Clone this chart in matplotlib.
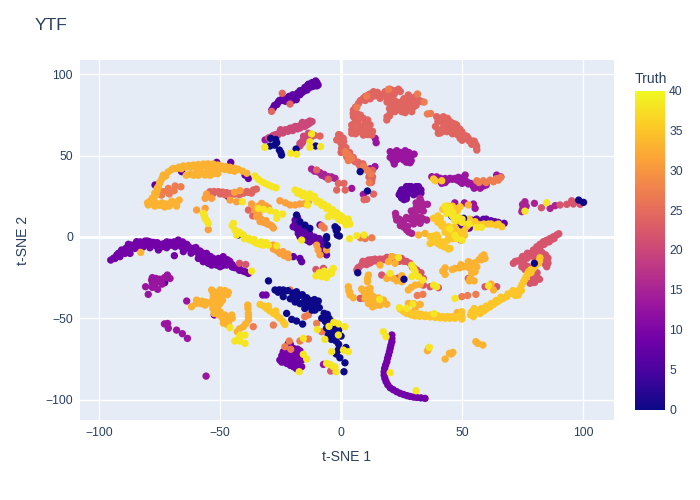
import matplotlib
matplotlib.use("Agg")
import matplotlib.pyplot as plt
from matplotlib.cm import ScalarMappable
from matplotlib.colors import LinearSegmentedColormap, Normalize

plt.rcParams['font.family'] = ['Liberation Sans', 'DejaVu Sans']

# (t-SNE 1, t-SNE 2), one list per truth value
t7 = [(-28.7,78),(-27.5,81),(-26,83),(-24.5,84),(-23,85),(-21.5,86.5),(-20,84),(-18.5,84.5),(-20,87.5),(-18,88.5),
      (-16.5,90),(-15,92),(-13.5,94),(-12,95),(-10,95),(-9.5,93.5),(-12,92.5),(-14,90.5),
      (-28,79.5),(-26.5,81.5),(-25.5,84),(-24,85.5),(-23,83.5),(-22,85),(-21,84.5),(-20,86),(-19,87),(-19,85.5),(-17,90),
      (-17,87.5),(-16,89),(-15,90),(-14,93),(-13,92),(-11,94),(-11,93),(-10,93),(-10.5,96),
      (24,26),(26,29),(28,31),(31,31),(33,29),(33,27),(30,26),(27,25),(26,23),(29,28),(25,24),
      (24.5,27.5),(25,29),(26,27),(27,31),(28,29),(28,27),(29,31),(30,30),(30,28),(31,29),(32,31),(32,28),(31,27),(27,23.5),(26,25),
      (-51.4,45.9),(-45.6,45.9),(-39.7,38.1),(-38.3,36),(-65.9,40.2),(-76.9,32),(-46.6,24.8),
      (-19,10.4),(-18.4,5.3),(-15.6,3.3),(-12.9,0.2),(-17.7,2.2),(-19.8,6.3),(-17,0.2),(-14.2,-1.9),(-11.5,-1.9),
      (-8,-2.9),(-6.7,-9),(-19.7,-12.1),(-17,-13.2),(-16.3,-15.2),(-8.7,7.4),(-15,-1),(-10,-4),(-7,-5),
      (-18,12),(-19,8),(-17,7),(-17,5),(-16,5),(-14,5),(-15,1),(-13,2),(-12,-1),(-13,-3),(-11,0),(-9,-1),(-8,-5),(-7,-3),(-6,-11),(-7.5,-7),(-10,-1),
      (54,10.4),(58.8,10.9),(63.6,9.4),(67.4,8.4),(49.2,8.4),(52,5.3),(-72.9,-28.1),(60,11),(62,10),(56,11),(65,9),(50,7),(53,5.5)]
t9 = [(-95.2,-14.2),(-92.7,-11.1),(-90.7,-8),(-87.9,-4.5),(-84.5,-2.9),(-81,-2.5),(-77.6,-3.3),(-74.2,-4.5),(-70.7,-3.3),
      (-67.3,-1.9),(-63.8,-4.5),(-61,-7),(-58.3,-8.6),(-55.6,-10.1),(-52.8,-13.2),(-54.9,-16.2),(-51.4,-17.3),(-48.7,-12.1),
      (-47.3,-17.3),(-43.9,-18.9),(-40.4,-21),(-38.3,-22.4),(-93.4,-13.2),(-91.4,-12.1),(-87.2,-10.1),(-89.3,-10.1),
      (-85.2,-7),(-81.7,-6),(-79,-6.6),(-75.5,-8),(-72.1,-6.6),(-68.6,-6),(-65.2,-9),(-68.9,-11.5),(-59,-13.2),(-57,-15.2),
      (-53.5,-17.3),(-50,-18.3),(-55.6,-12.1),(-50.7,-13.2),(-83,-5),(-78,-4.5),(-66,-6),(-62,-10),(-46,-15),
      (-94,-13),(-92,-10),(-91,-9.5),(-89,-7),(-88,-7.5),(-86.5,-5),(-86,-6),(-84,-5),(-83,-3),(-82,-4),(-80,-4),(-80,-2.5),(-79,-3),(-77,-5),
      (-76,-3.5),(-76,-6),(-74,-6),(-73,-4),(-72,-3),(-71,-5),(-70,-5),(-69,-3),(-69,-4.5),(-67,-4),(-65.5,-3),(-65,-6),(-64,-7),(-63,-6),(-62,-8),
      (-60,-9),(-60,-6.5),(-59,-10),(-58,-11),(-57,-10),(-57,-12.5),(-56,-14),(-55,-14),(-54,-12),(-53,-15),(-52,-15),(-50,-16),(-49,-15),(-49,-17.5),
      (-47,-14),(-47,-16),(-45,-17),(-45,-18.5),(-42,-19.5),(-42,-20.5),(-39.5,-21.5),(-89,-9),(-85,-6.5),
      (21,-60.3),(21,-62.5),(21,-64.4),(20.6,-66.5),(20.3,-68.5),(20,-70.5),(19.6,-72.6),(19.2,-74.6),(18.9,-76.8),(18.4,-78.8),
      (18,-80.8),(17.8,-83),(17.8,-85),(18.1,-87),(18.6,-89),(19.3,-91),(20.3,-92.8),(21.6,-94),(23,-95.2),(24.4,-96.2),
      (25.8,-96.9),(27.2,-97.6),(28.5,-98.1),(30,-98.5),(31.3,-98.7),(33,-99),(34.7,-99.3),
      (-25.3,-75.7),(-23.9,-70.6),(-21.8,-65.5),(-19.7,-68.5),(-18.4,-72.6),(-16.3,-75.7),(-16.3,-79.8),(-19.7,-79.8),
      (-22.5,-77.8),(-21.1,-73.7),(-23.2,-74.3),(-19.1,-76.8),(-17.7,-77.5),(-20.4,-70.6),(-22.5,-69.6),(-18,-69),
      (-24.5,-73),(-24.5,-77),(-23,-72),(-22,-71),(-21,-68),(-21,-66),(-20,-72),(-20,-75),(-18,-75),(-17,-72),(-16,-73),(-17,-80),(-18.5,-81),(-21,-79),(-23,-76),(-21,-76),(-22,-67),(-17,-70),
      (-52.4,-48),(-32.4,-35.7),(-31,-35.7)]
t13 = [(20.3,52.5),(23,53.1),(26.5,53.1),(30.2,51),(27.8,48.4),(28.5,45.7),(22,44.9),(20.3,49),(23,49.4),(25.8,47.4),(29,50),
       (21,51),(22,52),(24.5,52),(25,50),(26,51),(28,52),(29,47),(27,46),(21.5,47),(23,47.5),(24,48.5),(26,49.5),
       (37.5,37.1),(41,36.1),(45,36.1),(48.5,36.7),(51.3,38.1),(49.2,34),(52.6,32.6),(56.1,31),(58.8,31.4),(41.6,33),(64.3,38.1),(66,37),
       (43,36),(47,36),(54.5,31.6),(38.5,36),(39.5,37),(42,35),(44,35),(46,35.5),(48,35),(50,33),(51,35),(50.5,36.5),(52,34),(53.5,33),(55,30),(57.5,30),(59,32),(60,32),(43,33.5),
       (14.1,60.7),(14.5,58),(-31.4,59.7),(54.7,20.3),(55.4,17.6),(47,21),(51,21),(4.4,29.9),(9.2,26.2),(14,43.3),(12,42),
       (-78.3,-26.5),(-76,-27),(-74.8,-27.5),(-71.8,-23.4),(-70.7,-25.5),(-73,-25),(-80.8,-30.6),(-75.8,-32.2),(-79.7,-35.3),(-78,-28.5),
       (-78,-25),(-76.5,-25.5),(-75,-26),(-74,-29),(-72,-25),(-77,-29),(-78,-31),
       (-71.7,-53.2),(-71.4,-56.2),(-73,-53.5),(-68,-57.3),(-65.6,-59.5),(-63.5,-62.4),(-55.8,-85.6),(-63.8,-39.4),(-7.3,-78.4)]
t15 = [(32.6,23.8),(32,19.7),(35.7,20.1),(30.6,16.6),(32.6,16.6),(22.5,14.5),(23,10.4),(25.8,8.4),(28.5,10.9),(32,11.5),(35.4,10.4),
       (27.1,4.3),(29.2,2.2),(32.7,8.4),(30,8),(26,6),(76,21.7),(75.4,18.6),(74.7,15.6),(79.9,20.7),(86.4,17.6),(88.5,19.3),
       (33,22),(31,21),(33.5,18),(31,18),(34,20),(29,16),(34,16),(24,11),(26,10),(27,12),(29,12),(30,10),(31,13),(33,10),(34,11),(24.5,7),(27.5,6.5),(28,3),(22.7,12.5),(33,12),(75,17),(76.5,19),(75,20),
       (-12.2,41.8),(-8.7,39.6),(-5.3,37.1),(-2.5,36.1),(-7,38.5),(-10,40.5),(-15,60),(-4,37),(-11,40.5),(-9.5,40),(-8,38),(-6.5,37),(-4,36.5)]
t20 = [(-28.7,61.7),(-25.3,64.8),(-23.5,65.5),(-21.8,66.2),(-20,67),(-18.4,67.9),(-17,68.5),(-15.6,69.3),(-14,70.5),(-12.9,71.4),
       (-27,63),(-17,57.6),(-14.9,60.7),(-13.5,63.8),(-16,59),(-30,61),(-28,62.5),(-26,63),(-25,66),(-24,64),(-23,66),(-22,65),(-21,67),(-20,65.5),
       (-19,68),(-18,66.5),(-17,67),(-16,70.5),(-15,68),(-14,69),(-13,70),(-12,71),(-17,56),(-16,58),(-15.5,62),(-14,62),(-12,62)]
t22 = [(82.8,18),(90.5,19.7),(93.3,20.1),(96,20.3),(98.8,20.1),(95.3,22.3),
       (6.5,-20.3),(8.6,-16.9),(11.3,-14.2),(14,-13.6),(17.5,-13.6),(21,-12.1),(25,-13.2),(28.5,-16.2),(31.3,-20.3),(34,-25.5),(7.5,-18.5),(10,-15.5),(12.5,-14),(16,-13.6),
       (7,-19),(9,-15),(10.5,-17),(12,-16),(13,-15),(15,-15),(18,-14),(19,-12.5),(20,-14),(23,-13),(24,-15),(26,-15),(27,-15),(29.5,-18.5),(32.5,-23),(33,-22),(30,-19),
       (71.2,-16.2),(74.7,-13.2),(78.1,-10.1),(80.9,-6),(83.6,-2.9),(86.4,-0.9),(89.1,1.2),(73,-14.7),(76.5,-11.5),(79.5,-8),(82.2,-4.5),(85,-2),(87.8,0.2),
       (72,-15),(74,-15),(75,-12),(77,-10),(77,-13),(79,-10),(80,-9.5),(81,-8),(82,-7),(83,-5),(84,-4.5),(85,-3),(86,-3),(87,-1.5),(88,-1),(90,2),(75.5,-16),(76,-20),(78,-20),(79,-19),
       (80,-13),(83,-9.5),(84.5,-11),(85.5,-13),(85.5,-16),(84.5,-17),(81,-22),(79,-24),(82,-26),(80,-28),
       (84.3,-13.2),(85,-18.3),(80.9,-24.4),(78.1,-28.5),(74.7,-18.3),(82.3,-12.1),(77,-18),(85,-15.5),(79.5,-26.5),
       (16.8,-23.4),(20,-24.5),(23.5,-25.3),(34,-29.6),(36.8,-30.6),(40.2,-31.2),(59.5,-30.6),(64.3,-30.6),(52.6,-25.5),(7.9,-37.8),(9.5,-37.8),
       (-42,-16.2),(-39.4,-16.9),(-4.3,-82.5),(-10.4,-20),(-7.3,-19.3)]
t24 = [(5.1,78.1),(7.2,82.2),(9.2,85.3),(11.3,87.4),(13.4,89.4),(16.1,85.3),(18.2,89.4),(20.3,90.9),(23.7,90.9),(20.3,85.3),(21,81.2),(20.3,76.1),(18.9,72),
       (25.1,83.3),(27.8,87.4),(30.6,86.3),(33.3,83.3),(28.5,82.2),(25.1,77.1),(29.2,77.1),(26.5,79.2),(23,80.2),(22.3,77.1),(13,86.5),(15,87),(18,86.5),(22,88),(26,85),(31,81),
       (6,80),(8,84),(10,84),(10,86.5),(12,88),(12,85),(14,87),(15,89),(17,87.5),(19,88),(21,89),(22,90),(24.5,89.5),(19,83),(20,83.5),(22,84),(20,79),(21,77.5),(19,74),(20,74.5),
       (23,83),(25,80.5),(27,81),(26,85),(27,84),(28,85.5),(29,84.5),(30,83),(32,84.5),(26.5,76.5),(28,79),(30,80),(24,78.5),
       (5.1,74),(9.2,73),(4.4,68.9),(4.4,63.8),(7.9,64.8),(11.3,66.9),(12.7,62.7),(9.2,62.7),(6.5,76),(11,70),(7,71),(4.4,66),
       (5,76),(6,72),(8,75),(10,70),(11,72),(12,69),(13,65),(5.5,70),(6,66),(8,68),(9,66),(10,64),(6,63.5),(5.5,64.5),(12,64),(11,63),
       (39.5,74),(42.3,74),(45,71),(47.8,68.9),(49.9,64.8),(52.6,60.7),(55.4,57.6),(56.1,53.5),(40.2,65.8),(43.7,64.8),(47.1,64.8),(49.2,60.7),(41.6,71),(44.4,67.9),(40.2,63.8),(51,62.5),(54,59),(39,68),
       (40,71),(41,73),(43,72),(44,73),(46,70),(45,68),(47,69.5),(48,66),(46,66),(49,66.5),(50,62.5),(48,63),(51,60.5),(52,62),(53,59),(54,57),(55,59),(56,56),(56,55),(42,65),(42,67),(41,64),(43,69),(46,63.5),(50,59.5),
       (-0.4,62.7),(1,58.6),(1.7,53.5),(3,50.4),(5.8,46.3),(9.2,43.3),(12,39.2),(12.7,35),(0,57.6),(0.9,60.7),(-1.8,59.7),(0.2,54.5),(2.3,49.4),(-1,63),(7.5,44.5),
       (-1,61),(0,60),(1,56),(2,55),(0,52),(2,52),(3.5,52),(3,48),(5,49),(5,47.5),(7,46),(8,43),(9,45),(10,42),(11,41),(13,41),(11.5,37),(13,37),(12.5,33.5),
       (-54.2,27.9),(-50.7,27.9),(-47.3,27.3),(-43.9,26.4),(-40.4,26.9),(-36.3,28.9),(-52.5,28),(-49,27.6),(-45.5,26.8),(-38.5,27.5),
       (-53,26.5),(-50,26.5),(-48,26),(-46,25.5),(-42,26),(-39,28),(-37,27),(-35,29.5),
       (-8.7,62.1),(-11,62.5),(-38.3,16.6),(-36.5,13),(-1.1,33),(-1.8,28.9),(1.2,33),(1.7,28.9),(13.4,26.4),(10.6,23.2),(9.5,23),(-10.1,41.2),(-5.3,35.5),(49.5,-1.9),(-24.3,88.4),(-21.1,81.8),(-28.7,77.3)]
t27 = [(35.7,75.7),(37,76),(19.6,90.9),(10.6,86.7),(6.5,79.8),(31.6,88),(34.3,83),(56.1,34.6),(58.8,34.6),(61.6,35),(64.3,35.9),(66,36.7),(57,33.5),(60,33.5),(63,34),(65,35),
       (1.7,52.5),(4.4,48.4),(9.2,43.7),(12.3,38.7),(11.7,33.4),(3,50.5),(10.8,41),(10,-1),(12.7,-0.5),(8,-0.5),(2,51),(3,47),
       (-73.5,27.9),(-71.4,29.9),(-68.6,31.4),(-66.2,30.9),(-74.2,25.8),(-71,26.5),(-69,28.5),(-8,6.9),(-7,5.5),(33.8,-35.3),(31.5,-36),(49.9,-36.7),(52.3,-36),(55.7,-35.3),(-21.1,-32.6),(-13.5,-48),(-10.1,-53.2),(-8,-58.3),(-17,-64),(-13.5,-62.8),(-21.4,-64),(-20.8,-69.1),(-23.2,-67.5),(-28,-54.2),(-36.3,-55.2),(-15,-49)]
t31 = [(-55.6,26.4),(-56.2,23.8),(-53.5,23.8),(-59.7,16.6),(-56.2,17.6),(-54.9,4.5),(-35.6,16.6),(-34.9,12.5),(-32.1,9),(-28.7,6.9),(-33,11),(-30.5,8),(-32.8,20.7),(-37,20.3),
       (-34,14),(-33.5,9.5),(-31,10),(-29.5,7.5),(-34,19),(-31,19),(-30,18),(-28,5.5),
       (-25.3,22.3),(-21.1,19.7),(-17,20.3),(-13.5,21.7),(-23,21),(-19,19.7),(-15,20.5),(-45.9,22.7),(-43.2,21.7),(-41.8,28.5),(-44,27.5),
       (-28,-7.4),(-25.3,-10.1),(-21.8,-12.7),(-26.5,-8.5),(-23.5,-11.5),(-10.1,-5),(-8.7,-11),(-6,-8),(-9.5,-8),(-28,-5),(-24,-9),(-22,-10.5)]
t33 = [(-73.5,38.1),(-71.5,40),(-69.3,42.2),(-67,43),(-65.2,43.7),(-63,44),(-61,44.3),(-59,44.6),(-56.9,44.9),(-55,45),(-52.8,44.9),(-51,44.3),(-49.4,43.7),(-47.5,43.3),(-45.9,42.9),(-44,42.3),(-42.5,41.6),(-40.7,40.5),(-39,39.2),
       (-70,41.5),(-68,42),(-66,42),(-64,43),(-62,43),(-60,43),(-58,43),(-56,43.5),(-54,43.5),(-52,43),(-50,42),(-48,41.5),(-46,41),(-44,40.5),(-72.5,37.5),(-74,36),(-75,33),(-76,30),(-77,27),(-78,24),(-79,22),(-80,21),
       (-77,19),(-75,19.5),(-73,18.5),(-71,19),(-70,22),(-68,19),(-61,38),(-59,38),(-57,39),(-55,40),(-53,40.5),(-54,38),(-51,39),(-64,38),
       (-62.4,38.8),(-58.3,40.2),(-54.9,42.2),(-52.1,39.2),(-56.2,38.1),(-60,39.5),
       (-74.8,34),(-75.5,31),(-76,28.5),(-76.5,25.8),(-77.5,23.5),(-78.3,21.7),(-79.7,19.7),(-76.2,20.7),(-74,21),(-72.4,20.3),(-70.5,20.5),(-69.3,20.7),(-66.9,22.7),(-68,21.5),
       (-82.8,-9.5),(-53.5,-32.6),(-50,-32.6),(-46.6,-34),(-52.8,-36.7),(-49.4,-36.7),(-48,-35),(-51,-38),(-52.1,-41.9),(-51.5,-45),(-50.7,-48),(-53,-39),
       (-52,-34),(-51,-36),(-50,-35),(-48,-33),(-47,-35.5),(-53,-34),(-50,-38),(-49,-39),(-50,-41),(-51,-43),(-53,-44),(-52.5,-47),(-50,-46),(-49,-50),(-48,-48),(-46,-50),(-47,-54),(-45,-50),(-60,-41),(-58,-41),(-56,-40),
       (-59.7,-38.8),(-61.8,-42.9),(-56.2,-41.9),(-57.5,-39.5),(-54.5,-40.5),(-47.3,-50),(-45.2,-48),(-48.7,-53),(-46.5,-52.5),
       (-38.6,-41.9),(-38.5,-44),(-38.3,-47),(-38.3,-49),(-38.3,-51.1),(-39.5,-53.5),(-40.4,-55.2),(-42,-56.5),(-42.9,-58.3),
       (11.3,-23.4),(10.9,-25.5),(10.9,-27.5),(3,-30.6),(3.2,-33),(3.7,-35.7),(5.1,-37.4),(10.6,-32.6),(13.4,-36.7),(16.1,-41.9),(9.9,-37.8),(11.3,-40.9),(17.5,-38.8),(18.9,-41.4),(13.4,-40.9),(15,-39),(12,-34.5),
       (3.5,-34),(12,-39),(14.5,-42),(13,-43),(11.5,-36),(10,-35),(9.5,-34),(15.5,-37.5),(17,-40.5),(12,-31.5),(8.5,-32),
       (16.1,-17.3),(19.6,-15.2),(22.3,-16.2),(21,-12.1),(18.9,-25.5),(21.6,-25.5),(25.1,-23.8),(25.1,-27.5),(23,-27),(27.8,-32.6),(29,-31),(30.6,-29.6),(32.7,-29.2),(27.8,-40.9),(32.7,-41.5),(30.6,-44.3),(30,-41),
       (42,-21),(43,-23),(47.1,-19.3),(49,-19),(50.6,-18.3),(52.6,-15.2),(55.4,-21.4),(56.1,-18.3),(58.1,-12.1),(59.5,-13.2),(57,-14),(53.3,-25.5),(54,-22.4),(53,-19),(63,-32.6),(62,-29),
       (43,-19),(46,-20),(49.5,-17),(52,-18),(54,-17),(55,-16),(58,-14),(59,-11),(53,-27),(55,-27),
       (35.7,-70),(36.2,-68.5),(44.8,-71.6),(43,-75.1),(46.2,-71),(45.5,-72),(55.7,-64.4),(58.6,-66.5),(56.5,-65.5),(49.5,-46.4),(48,-46.5),(32,1.2),(34.7,2.2),(52.6,19.7)]
t35 = [(-33.5,-41.5),(-32,-42.5),(-30.8,-44),(-29.5,-45.5),(-28,-47),(-26.5,-48.5),(-25.3,-50),(-24,-52),(-23.2,-53.8),(-30,-42.5),(-27,-45.5),
       (24.4,-44.3),(25.6,-45.5),(27.1,-47),(29,-48),(30.6,-48.6),(32.5,-48.8),(34.7,-49),(36.8,-49.2),(38.9,-49.5),(41,-49.8),(43,-50),(45,-50),(47.1,-50),(49.9,-50.5),
       (26,-46),(28,-46.5),(31,-47),(33,-47.5),(35,-48),(37,-48),(40,-48.5),(42,-49),(44,-49),(46,-49),(48,-49),(50,-49),
       (54,-46),(54.7,-49),(57.5,-47),(59,-45.5),(60.2,-44),(61.5,-43),(63,-41.5),(64.5,-40),(65.7,-38.8),(67,-37.8),(68.5,-36.7),(70.5,-34.7),(72,-33.5),(73.3,-35.7),(74,-31.6),(74.7,-29.5),(75.4,-27.5),(76.5,-24.5),(77.4,-21.4),(78.5,-20),(79.5,-19.3),(80.5,-17.5),(81.6,-16.2),(82,-14.5),(82.2,-12.8),
       (55,-47),(56,-46),(58,-44),(60,-42.5),(62,-41),(64,-39),(66,-37),(69,-35),(71,-33),(72,-36),(74.5,-33),(76,-26),(77,-23),(78.5,-22),(55,-44),(53.5,-48),
       (49.9,-46),(38.2,11.5),(41,11.5),(41.6,6.8),(44.4,6.3),(47.1,4.3),(50.6,2.2),(39.5,1.2),(36.8,0.2),(44.4,1.2),(39.5,-1.9),(41,-5),(44.4,-7.4),(47.1,-0.9),(49.9,-0.4),(36.8,-4),(42.5,-6),(38,-2.5),
       (40,9),(42,8),(43,5),(45,5),(46,3),(47,6),(48,2),(49,3),(49,0.5),(51,1),(52,6.5),(40,0),(38,0.5),(42,-3),(43,-6),(45,-7),(46,-1),(48,1),(38,-3),(40,-4),(44,-2),(56,8),(59,8),(62,8),(65,8),(53,11),(40,13),(42,17),(44,19),(46,19),(48,16),
       (47.1,17.6),(49.2,18.6),(45.5,16.5),(55.4,9.4),(58.1,7.4),(60.9,8),(64,7.4),(66.4,6.3),(48.5,10),(51,4),(43,3),(38.2,35.7),(38.9,34.6),(41.6,34.6),(-14,20)]
t0 = [(-29.1,60.7),(-26.6,58),(-27,60),(-29.4,56),(-27.5,56.5),(-25.5,53.5),(-24.6,50.4),(-24.9,52),(-18.6,54.1),(-10.5,56),
      (-18.4,13.5),(-17,9.4),(-14.9,7.3),(-12.9,5.3),(-6,0.2),(-2.5,6.3),(-1.6,1.2),(-2,4),(-1.5,5),(-42.5,1.2),(7.9,40.2),(10.9,28.3),(98.2,22.7),(100.2,21.3),
      (-6,-0.8),(-5.7,-5),(-0.7,0.6),(-27.3,-32.6),(-25.5,-32.5),(-23.9,-32.6),(-18.4,-33.7),(-16,-35.5),(-14.2,-37.4),(-9.4,-39.4),(-11,-38.5),(-23.9,-36.7),(-18.4,-38.8),(-14.2,-41.9),(-12.5,-43),(-10.8,-45),(-5.7,-47.6),(-8,-50),(-3.9,-58.3),(-5.3,-60.3),(-2.1,-64),(-1.2,-69.6),
      (-26,-34),(-24,-34.5),(-22,-33),(-20,-34.5),(-19,-36),(-17,-36),(-15,-39),(-13,-39),(-12,-41),(-10,-42),(-9,-43.5),(-7,-47),(-7,-50),(-5,-50),(-4,-52),(-3,-56),(-2,-57),(-5,-58),(-6,-56),(-3,-60),(-2,-61),(0,-61),(-4,-63),(-1,-66),(-2,-72),(-12,-45),(-15,-44),(-17,-41),(-19,-40),(-21,-38),
      (-22.5,-47),(-20.4,-50.7),(-18.4,-51.7),(-15.9,-53.6),(-1,-57.3),(-0.5,-74.3),(1.6,-77.4),(1.2,-82.9),(2,-68),(-4.5,-55),(-6.5,-52),
      (45.7,12.9),(50.6,11.5),(79.9,-16.2),(6.9,-22),(-30,-27),(26,-26)]
t38 = [(-35.6,37.5),(-34.2,35.5),(-32.8,34),(-31.5,33),(-30,32),(-28.5,31),(-26.9,30.3),(-56.9,14.5),(-56.5,13),(-56.2,11.5),(-55.5,10),(-54.9,8.4),(-40.8,21.7),
       (-34.2,17.6),(-32,17),(-29.4,16.2),(-27,15),(-24.2,14.1),(-26.6,11.5),
       (-19,28.9),(-17.3,28),(-15.6,26.9),(-14,25.7),(-12.2,24.4),(-10.5,23),(-8.7,21.7),(-7,20),(-5.3,18.6),(-3.5,16.8),(-1.8,14.9),(-0.5,13.3),(1,11.5),(2.4,9.4),(3.7,8),(0.3,12.5),(-13.8,19.7),(-5.3,12.5),
       (-18,27),(-16,25.5),(-14,24),(-13,26.5),(-11,25),(-10,21.5),(-8,19.5),(-6,17.5),(-4,15),(-3,13),(-1,11),(0,10),(2,7.5),(3,11),
       (6.5,0.8),(9.5,1.2),(-44.5,8.4),(-45,7),(-43.9,4.3),(-42,3),(-40.4,1.2),(-38.3,-0.8),(-43.2,1.2),(-37.7,-1.9),(-36,-3),(-34.9,-3.9),(-33.5,-4.5),(-32.1,-5),(-30,-5),(-26.6,-5.4),(-16.3,-1.9),(-40,-1),(-36,-1.5),(-33,-3),(-31,-3.5),
       (-31.5,55.2),(-12.2,63.4),(-12.9,58.6),(-8.5,55.6),(-20.8,51.5),(-12.9,55.2),(-18.4,50.9),(-37,-21),
       (-45.9,-55.8),(-41.8,-60.3),(-43.9,-64),(-41.8,-64),(-39.7,-65.5),(-39.7,-60.3),(-42,-62),(-3,-52.5),(1.6,-55.2),(-6.7,-63),(-1.1,-60.3),(-3.9,-70.6),(1,-69.6),(3,-70.6),(-15.6,-62.4),(-15.6,-72.2),(-14.2,-75.1),(-17.3,-82.9),(-6,-77.8),(-3.2,-79.8),(-2.1,-82.9),(-4.5,-78.5),(-2.5,-80),(-9.8,-56.9),(-5,-55),(-1,-53.5),
       (-10.4,-24),(-8,-24.4),(-5.3,-23),(-3.2,-19.3),(-6.5,-23),(-4,-21),(-8,-23.5),(-6,-25),(-9,-22),(-4,-22.5),(-7,-21),(23.7,-12.7),(20.3,-22.4),(15.9,-38.4),(29.2,-17.3),(30,-19.5),(30.6,-21.4),(32,-24.4),(33.8,-26.5),(29.2,-24.4),
       (38.2,-29.6),(39.5,-30.6),(60.9,-30),(47.1,-37.8),(24.1,-43.5),(27.1,-43.9),(29.6,-41.3),(38.4,-47.2),(17.5,-58.3),(18.6,-61.4),(20.3,-83.5),(31,-94.6),(36.5,-67.9),
       (43.4,17.6),(43.7,14.5),(46,15.5),(48.5,12),(50,11),(3.5,-1),(85,21.1),(76,15.9),(43,19),(45,18),(46,13),(50,9),(53,8),(56,6),(58,6),(45,5),(48,-1),(47,1),(50,-2),(47,10)]

levels = [7, 9, 13, 15, 20, 22, 24, 27, 31, 33, 35, 0, 38]
groups = [t7, t9, t13, t15, t20, t22, t24, t27, t31, t33, t35, t0, t38]
xticks = [-100, -50, 0, 50, 100]
yticks = [-100, -50, 0, 50, 100]
cbar_ticks = [0, 5, 10, 15, 20, 25, 30, 35, 40]

plasma = LinearSegmentedColormap.from_list("plotly_plasma", [
    "#0d0887", "#46039f", "#7201a8", "#9c179e", "#bd3786",
    "#d8576b", "#ed7953", "#fb9f3a", "#fdca26", "#f0f921"])
norm = Normalize(0, 40)
ink = "#2a3f5f"

fig = plt.figure(figsize=(7, 5), dpi=100)
ax = fig.add_axes([80 / 700, 80 / 500, 534 / 700, 360 / 500], facecolor="#E5ECF6")

for level, pts in zip(levels, groups):
    xs = [p[0] for p in pts]
    ys = [p[1] for p in pts]
    ax.scatter(xs, ys, c=[level] * len(pts), cmap=plasma, norm=norm, s=28, linewidths=0, zorder=3)

ax.set_xlim(-107.9, 112.8)
ax.set_ylim(-112.6, 108.9)
ax.set_xticks(xticks)
ax.set_yticks(yticks)
ax.grid(True, color="white", linewidth=1)
ax.axvline(0, color="white", linewidth=2, zorder=1)
ax.axhline(0, color="white", linewidth=2, zorder=1)
ax.set_axisbelow(True)
for s in ax.spines.values():
    s.set_visible(False)
ax.tick_params(length=0, labelsize=8.7, labelcolor=ink, pad=5)

fig.text(35 / 700, 1 - 25.5 / 500, "YTF", fontsize=12.6, color=ink, va="center")
fig.text(347 / 700, 1 - 457 / 500, "t-SNE 1", fontsize=10.1, color=ink, ha="center", va="center")
fig.text(23 / 700, 1 - 240 / 500, "t-SNE 2", fontsize=10.1, color=ink, ha="center", va="center", rotation=90)

cax = fig.add_axes([635 / 700, 90.5 / 500, 30 / 700, 319 / 500])
cb = fig.colorbar(ScalarMappable(norm=norm, cmap=plasma), cax=cax, ticks=cbar_ticks)
cb.outline.set_visible(False)
cb.ax.tick_params(length=0, labelsize=8.7, labelcolor=ink, pad=3)
fig.text(635 / 700, 1 - 79 / 500, "Truth", fontsize=10.1, color=ink, va="center")

fig.savefig("out.png", dpi=100)
